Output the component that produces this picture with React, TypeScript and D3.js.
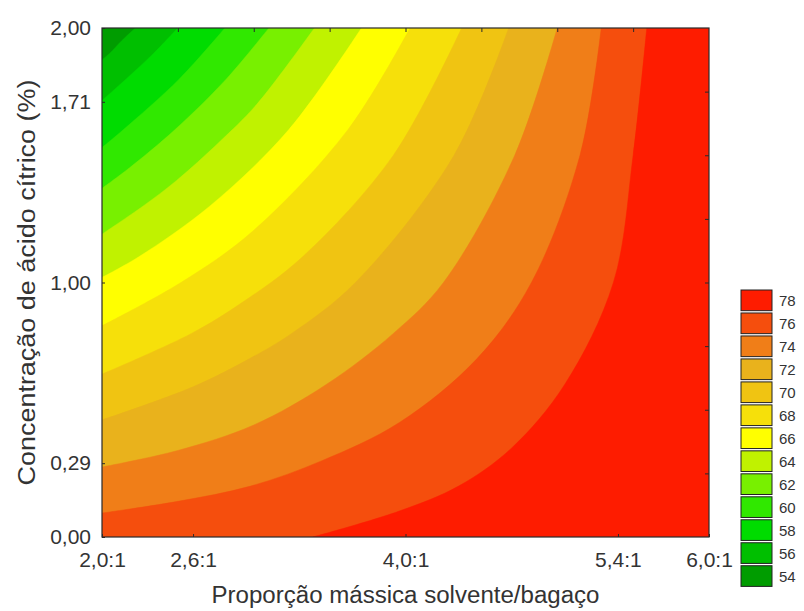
import React, { useEffect, useRef } from 'react';
import * as d3 from 'd3';

// legend levels, bottom to top, and the fill for each band
const levels = [54, 56, 58, 60, 62, 64, 66, 68, 70, 72, 74, 76, 78];
const levelColors = [
  '#009c00', '#00bf00', '#00dc00', '#30e800', '#78f000', '#c0f200', '#ffff00',
  '#f6e00a', '#f0c412', '#e9b21c', '#f07e18', '#f54e0d', '#fe1c00',
];

const xTickValues = [2.0, 2.6, 4.0, 5.4, 6.0];
const xTickLabels = ['2,0:1', '2,6:1', '4,0:1', '5,4:1', '6,0:1'];
const yTickValues = [0, 0.29, 1.0, 1.71, 2.0];
const yTickLabels = ['0,00', '0,29', '1,00', '1,71', '2,00'];

// contour lines, [proporção, concentração], from the top edge to the left/bottom edge
const c54 = [[2.22, 2.0], [2.13, 1.95], [2.05, 1.9], [2.0, 1.875]];
const c56 = [[2.5, 2.0], [2.34, 1.9], [2.16, 1.8], [2.0, 1.715]];
const c58 = [[2.81, 2.0], [2.51, 1.8], [2.14, 1.6], [2.0, 1.53]];
const c60 = [[3.1, 2.0], [2.82, 1.8], [2.48, 1.6], [2.18, 1.45], [2.0, 1.37]];
const c62 = [[3.4, 2.0], [3.02, 1.7], [2.77, 1.55], [2.49, 1.4], [2.27, 1.3], [2.0, 1.19]];
const c64 = [[3.71, 2.0], [3.23, 1.6], [2.71, 1.3], [2.24, 1.1], [2.0, 1.02]];
const c66 = [[4.03, 2.0], [3.62, 1.6], [2.99, 1.2], [2.52, 1.0], [2.0, 0.83]];
const c68 = [[4.37, 2.0], [3.92, 1.5], [3.32, 1.1], [2.92, 0.92], [2.59, 0.8], [2.0, 0.64]];
const c70 = [[4.68, 2.0], [4.32, 1.5], [3.67, 1.0], [3.25, 0.8], [2.97, 0.7], [2.6, 0.59], [2.0, 0.46]];
const c72 = [[5.0, 2.0], [4.72, 1.5], [4.25, 1.0], [3.92, 0.8], [3.48, 0.6], [3.0, 0.44], [2.5, 0.34], [2.0, 0.275]];
const c74 = [[5.29, 2.0], [5.15, 1.5], [4.83, 1.0], [4.47, 0.7], [3.96, 0.45], [3.45, 0.3], [2.98, 0.2], [2.5, 0.14], [2.0, 0.094]];
const c76 = [[5.59, 2.0], [5.5, 1.5], [5.37, 1.0], [5.05, 0.6], [4.7, 0.35], [4.35, 0.2], [3.95, 0.1], [3.39, 0.0]];

const contours = [c54, c56, c58, c60, c62, c64, c66, c68, c70, c72, c74, c76];

export default function App() {
  const ref = useRef<SVGSVGElement>(null);

  useEffect(() => {
    if (!ref.current) return;
    const svg = d3.select(ref.current);
    svg.selectAll('*').remove();

    const font = "'Liberation Sans', Arial, sans-serif";
    const x = d3.scaleLinear().domain([2, 6]).range([102, 709]);
    const y = d3.scaleLinear().domain([0, 2]).range([537, 28]);

    svg.append('defs').append('clipPath').attr('id', 'plot-clip')
      .append('rect')
      .attr('x', x(2)).attr('y', y(2))
      .attr('width', x(6) - x(2)).attr('height', y(0) - y(2));

    const plot = svg.append('g').attr('clip-path', 'url(#plot-clip)');

    // lowest band fills the whole area, each contour then paints the region above it
    plot.append('rect')
      .attr('x', x(2)).attr('y', y(2))
      .attr('width', x(6) - x(2)).attr('height', y(0) - y(2))
      .attr('fill', levelColors[0]);

    const line = d3.line<number[]>()
      .x(d => x(d[0]))
      .y(d => y(d[1]))
      .curve(d3.curveCatmullRom.alpha(0.5));

    const regionPath = (pts: number[][]) => {
      const last = pts[pts.length - 1];
      const tail = last[1] <= 0 ? [[6, 0], [6, 2]] : [[2, 0], [6, 0], [6, 2]];
      return line(pts) + tail.map(p => `L${x(p[0])},${y(p[1])}`).join('') + 'Z';
    };

    plot.selectAll('path.band')
      .data(contours)
      .enter()
      .append('path')
      .attr('class', 'band')
      .attr('d', d => regionPath(d))
      .attr('fill', (_, i) => levelColors[i + 1])
      .attr('stroke', (_, i) => levelColors[i + 1])
      .attr('stroke-width', 0.5);

    // frame
    svg.append('rect')
      .attr('x', x(2)).attr('y', y(2))
      .attr('width', x(6) - x(2)).attr('height', y(0) - y(2))
      .attr('fill', 'none')
      .attr('stroke', '#2a2a2a')
      .attr('stroke-width', 1.2);

    const styleAxis = (g: any) => {
      g.select('.domain').remove();
      g.selectAll('line').attr('stroke', '#2a2a2a');
      g.selectAll('text')
        .attr('fill', '#333')
        .style('font-family', font)
        .style('font-size', '21px');
    };

    svg.append('g')
      .attr('transform', `translate(0,${y(0)})`)
      .call(d3.axisBottom(x).tickValues(xTickValues).tickSize(-3).tickPadding(15)
        .tickFormat((_, i) => xTickLabels[i]))
      .call(styleAxis);

    svg.append('g')
      .attr('transform', `translate(${x(2)},0)`)
      .call(d3.axisLeft(y).tickValues(yTickValues).tickSize(-3).tickPadding(11)
        .tickFormat((_, i) => yTickLabels[i]))
      .call(styleAxis);

    svg.append('g')
      .attr('transform', `translate(0,${y(2)})`)
      .call(d3.axisTop(x).tickValues([2.5, 3, 3.5, 4, 4.5, 5, 5.5]).tickSize(-4).tickFormat(() => ''))
      .call(styleAxis);

    svg.append('g')
      .attr('transform', `translate(${x(6)},0)`)
      .call(d3.axisRight(y).tickValues([0.25, 0.5, 0.75, 1, 1.25, 1.5, 1.75]).tickSize(-4).tickFormat(() => ''))
      .call(styleAxis);

    // axis titles
    svg.append('text')
      .attr('x', (x(2) + x(6)) / 2)
      .attr('y', 603)
      .attr('text-anchor', 'middle')
      .attr('textLength', 388)
      .attr('lengthAdjust', 'spacingAndGlyphs')
      .attr('fill', '#333')
      .style('font-family', font)
      .style('font-size', '23px')
      .text('Proporção mássica solvente/bagaço');

    svg.append('text')
      .attr('transform', `translate(35,${(y(0) + y(2)) / 2}) rotate(-90)`)
      .attr('text-anchor', 'middle')
      .attr('textLength', 406)
      .attr('lengthAdjust', 'spacingAndGlyphs')
      .attr('fill', '#333')
      .style('font-family', font)
      .style('font-size', '23px')
      .text('Concentração de ácido cítrico (%)');

    // legend
    const legendY = d3.scaleBand<number>()
      .domain([...levels].reverse())
      .range([290, 290 + 13 * 22.8])
      .paddingInner(0.1);

    const legend = svg.append('g');
    legend.selectAll('rect')
      .data(levels)
      .enter()
      .append('rect')
      .attr('x', 741)
      .attr('y', d => legendY(d) as number)
      .attr('width', 31)
      .attr('height', legendY.bandwidth())
      .attr('fill', (_, i) => levelColors[i])
      .attr('stroke', '#222')
      .attr('stroke-width', 1);

    legend.selectAll('text')
      .data(levels)
      .enter()
      .append('text')
      .attr('x', 779)
      .attr('y', d => (legendY(d) as number) + legendY.bandwidth() / 2 + 5.5)
      .attr('fill', '#333')
      .style('font-family', font)
      .style('font-size', '15px')
      .text(d => String(d));
  }, []);

  return (
    <svg
      ref={ref}
      width={804}
      height={611}
      style={{ position: 'absolute', left: 0, top: 0, background: '#fff' }}
    />
  );
}
